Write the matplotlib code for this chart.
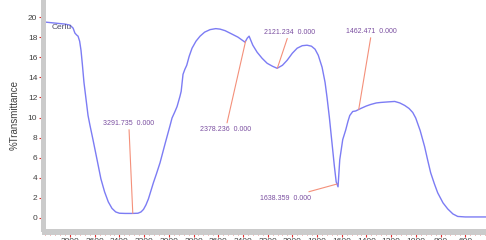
import numpy as np
import matplotlib
matplotlib.use("Agg")
import matplotlib.pyplot as plt
from matplotlib.ticker import MultipleLocator

# spectrum (wavenumber cm-1, %T)
wavenumber = [4000, 3920, 3840, 3800, 3775, 3760, 3745, 3735, 3722, 3711, 3700,
              3687, 3670, 3654, 3638, 3614, 3581, 3550, 3520, 3490, 3460, 3430,
              3400, 3354, 3298, 3250, 3225, 3205, 3185, 3165, 3145, 3125, 3100,
              3071, 3030, 2990, 2974, 2950, 2933, 2910, 2900, 2885, 2870, 2855,
              2835, 2812, 2780, 2747, 2710, 2666, 2620, 2585, 2545, 2504, 2440,
              2383, 2365, 2350, 2320, 2285, 2245, 2204, 2160, 2123, 2080, 2042,
              2000, 1961, 1920, 1881, 1845, 1816, 1790, 1759, 1735, 1719, 1700,
              1680, 1660, 1645, 1630, 1616, 1592, 1568, 1550, 1535, 1511, 1487,
              1446, 1400, 1365, 1320, 1284, 1230, 1171, 1130, 1090, 1055, 1025,
              1001, 965, 929, 905, 880, 850, 823, 780, 742, 700, 661, 600, 432]
transmittance = [19.5, 19.4, 19.3, 19.2, 18.9, 18.4, 18.2, 18.1, 17.6, 16.7, 15.3,
                 13.5, 11.8, 10.2, 9.2, 7.8, 5.8, 3.9, 2.6, 1.6, 0.95, 0.6,
                 0.47, 0.45, 0.45, 0.47, 0.6, 0.85, 1.3, 1.9, 2.7, 3.5, 4.4,
                 5.5, 7.4, 9.2, 9.95, 10.6, 11.1, 12.1, 12.6, 14.3, 14.8, 15.2,
                 16.1, 16.9, 17.6, 18.1, 18.5, 18.75, 18.85, 18.8, 18.65, 18.4, 18.0,
                 17.5, 17.9, 18.1, 17.2, 16.5, 15.9, 15.4, 15.1, 14.9, 15.2, 15.7,
                 16.4, 16.9, 17.15, 17.2, 17.1, 16.8, 16.2, 15.0, 13.5, 12.0, 10.0,
                 7.6, 5.2, 3.6, 3.1, 5.8, 7.8, 8.75, 9.6, 10.2, 10.6, 10.65,
                 10.9, 11.15, 11.3, 11.45, 11.5, 11.55, 11.6, 11.45, 11.2, 10.9, 10.5,
                 9.95, 8.7, 7.1, 5.8, 4.5, 3.4, 2.5, 1.5, 0.9, 0.4, 0.15, 0.1, 0.1]

# peak labels and where each label sits relative to its peak (pixels)
peak_wn = [3291.735, 2378.236, 2121.234, 1638.359, 1462.471]
peak_offset = [(-4, 90), (-20, -88), (12, 36), (-51, -14), (13, 78)]

W, H = 486, 240
fig = plt.figure(figsize=(W / 100, H / 100), dpi=100)
ax = fig.add_axes([45.3 / W, 11 / H, 1 - 45.3 / W, 1 - 11 / H])

ax.plot(wavenumber, transmittance, color='#7c7cf4', lw=1.0)

wn_sorted = np.array(wavenumber[::-1])
t_sorted = np.array(transmittance[::-1])
for wn, off in zip(peak_wn, peak_offset):
    t = np.interp(wn, wn_sorted, t_sorted)
    ax.annotate('%.3f  0.000' % wn, xy=(wn, t), xytext=off,
                textcoords='offset pixels', ha='center', va='center',
                fontsize=5, color='#7a4ea0',
                family=['Liberation Sans Narrow', 'Liberation Sans'],
                arrowprops=dict(arrowstyle='-', color='#f4907a', lw=0.8,
                                shrinkA=0, shrinkB=0))

ax.text(0.015, 0.882, 'Cerlu', transform=ax.transAxes, fontsize=6,
        color='#505068', va='center', ha='left', family='Liberation Sans')

ax.set_xlim(4000, 432)
ax.set_ylim(-1.1, 21.7)
ax.set_xticks(np.arange(3800, 599, -200))
ax.xaxis.set_minor_locator(MultipleLocator(40))
ax.set_yticks(np.arange(0, 21, 2))

for s in ['top', 'right']:
    ax.spines[s].set_visible(False)
ax.spines['left'].set_color('#cbcbcb')
ax.spines['left'].set_linewidth(3.6)
ax.spines['left'].set_position(('outward', 1.8))
ax.spines['bottom'].set_color('#cbcbcb')
ax.spines['bottom'].set_linewidth(4.3)
ax.spines['bottom'].set_position(('outward', 2.2))

ax.tick_params(axis='y', colors='#e03030', length=3, width=0.8,
               labelsize=6, labelcolor='#404040', pad=1)
ax.tick_params(axis='x', which='major', colors='#e03030', length=3.5,
               width=0.8, labelsize=6, labelcolor='#404040', pad=1)
ax.tick_params(axis='x', which='minor', colors='#e06060', length=2, width=0.6)
for lab in ax.get_xticklabels() + ax.get_yticklabels():
    lab.set_family('Liberation Sans')

ax.set_ylabel('%Transmittance', fontsize=7, color='#404040',
              family='Liberation Sans', labelpad=6)

fig.savefig('out.png', dpi=100)
